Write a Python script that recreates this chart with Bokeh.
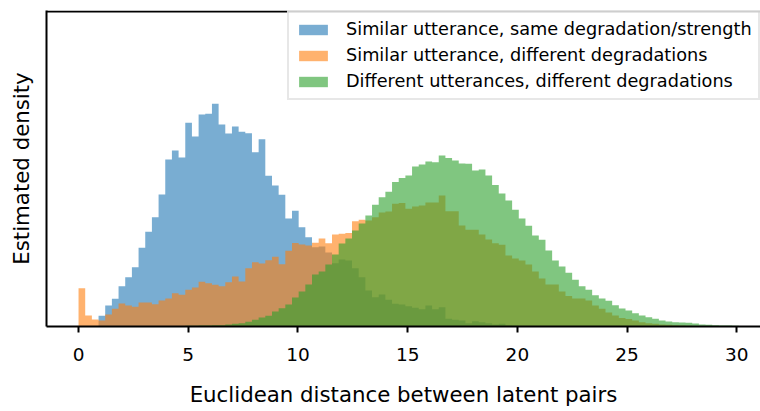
import numpy as np
from bokeh.plotting import figure
from bokeh.models import Range1d, FixedTicker
from bokeh.embed import file_html
from bokeh.resources import INLINE

# ---- data (heights in arbitrary density units) ----
bin_edges = np.linspace(0.0, 30.4, 101)

same_degradation = [
    0, 0, 0, 10.7, 21, 27.7, 40.3, 49.3, 59.3, 78.7,
    94.7, 109.3, 132, 167, 176, 169, 203.7, 190, 212, 212.7,
    222.7, 202, 193, 200, 194.7, 193.3, 174.3, 187.3, 150.7, 141,
    131.7, 108, 115.7, 99.3, 89.3, 79.3, 80, 74, 63.3, 67,
    66, 58.3, 49.3, 36, 29.3, 32, 26.7, 22.7, 22, 20.3,
    18.7, 17.3, 21, 17.3, 19.3, 7.7, 6.7, 6, 3.3, 5.3,
    4.3, 3.3, 2, 2.7, 1, 0.8, 0.6, 0.4, 0.3, 0.2,
    0, 0, 0, 0, 0, 0, 0, 0, 0, 0,
    0, 0, 0, 0, 0, 0, 0, 0, 0, 0,
    0, 0, 0, 0, 0, 0, 0, 0, 0, 0,
]

diff_degradations = [
    38.3, 11, 7, 6, 12, 17.7, 23, 21, 19.7, 24,
    24, 22.3, 26, 28, 33.3, 31.7, 36.7, 39, 44.7, 43.3,
    41.7, 40.3, 44.3, 50, 45, 58.3, 64.3, 63, 66.3, 69.7,
    62.3, 75.7, 83.5, 82, 81, 83.7, 88, 83.3, 92, 92.7,
    93.5, 105.3, 106.7, 106, 109.3, 114, 115, 122.7, 123.5, 117.7,
    120, 121, 124, 124, 131, 115.3, 115.3, 101, 96.7, 96.7,
    92, 87, 83.3, 81.7, 71, 68, 66, 62, 55, 48,
    42, 42, 35, 30.5, 28, 28, 26, 21, 17.7, 14,
    11, 8.5, 7.5, 6, 4.3, 3.3, 2.7, 2, 1.7, 1.3,
    1, 0.8, 0.6, 0.5, 0.4, 0.3, 0.2, 0.1, 0.1, 0,
]

diff_utterances = [
    0, 0, 0, 0, 0, 0, 0, 0, 0, 0,
    0, 0, 0.2, 0.3, 0.4, 0.5, 0.7, 0.8, 1.0, 1.0,
    1.3, 1.3, 2, 2.7, 3.3, 4.7, 6.7, 9, 10.7, 15,
    18.3, 22, 29, 35, 42, 52, 55, 62, 72, 83,
    88, 96, 103, 111, 121.7, 129.3, 134.7, 144.5, 148.5, 151,
    160, 162, 165, 164.3, 171, 168.5, 166, 163, 162.7, 156,
    157, 151, 141.5, 133, 126, 116.7, 108, 100.7, 91, 86.7,
    76, 66, 60, 53.7, 46.7, 40.3, 36.7, 31.3, 28, 25.7,
    21.3, 18, 16, 13.3, 11, 9.3, 7.7, 6, 5, 4.3,
    4, 3.7, 3, 2, 1.7, 1.3, 1, 1, 0.7, 0,
]

series_labels = [
    "Similar utterance, same degradation/strength",
    "Similar utterance, different degradations",
    "Different utterances, different degradations",
]
series_colors = ["#1f77b4", "#ff7f0e", "#2ca02c"]
x_ticks = [0, 5, 10, 15, 20, 25, 30]
x_lo, x_hi = -1.46, 31.08
y_top = 316

FONT = "DejaVu Sans"

p = figure(
    width=760, height=411,
    output_backend="svg", toolbar_location=None,
    x_range=Range1d(x_lo, x_hi), y_range=Range1d(0, y_top),
    min_border_left=46, min_border_right=0, min_border_top=10, min_border_bottom=85,
    background_fill_color="white", border_fill_color="white",
)
p.outline_line_color = None
p.xgrid.visible = False
p.ygrid.visible = False

for vals, lab, col in zip([same_degradation, diff_degradations, diff_utterances],
                          series_labels, series_colors):
    p.varea_step(x=bin_edges, y1=0, y2=np.append(np.array(vals, dtype=float), 0.0),
                 step_mode="after", fill_color=col, fill_alpha=0.6,
                 legend_label=lab)

# top spine, drawn as a segment along the top of the y range
p.segment(x0=[x_lo], x1=[x_hi], y0=[y_top - 1], y1=[y_top - 1],
          line_color="black", line_width=2)

# x axis
xa = p.xaxis[0]
xa.ticker = FixedTicker(ticks=x_ticks)
xa.axis_label = "Euclidean distance between latent pairs"
xa.axis_line_width = 2
xa.axis_line_color = "black"
xa.major_tick_line_width = 2
xa.major_tick_line_color = "black"
xa.major_tick_out = 6
xa.major_tick_in = 0
xa.minor_tick_out = 0
xa.minor_tick_in = 0
xa.major_label_text_font = FONT
xa.major_label_text_font_size = "18.5px"
xa.major_label_text_color = "black"
xa.major_label_standoff = 15
xa.axis_label_text_font = FONT
xa.axis_label_text_font_size = "21.3px"
xa.axis_label_text_font_style = "normal"
xa.axis_label_text_color = "black"
xa.axis_label_standoff = 18

# y axis (no ticks)
ya = p.yaxis[0]
ya.ticker = FixedTicker(ticks=[])
ya.axis_label = "Estimated density"
ya.axis_line_width = 2
ya.axis_line_color = "black"
ya.major_tick_out = 0
ya.major_tick_in = 0
ya.minor_tick_out = 0
ya.minor_tick_in = 0
ya.axis_label_text_font = FONT
ya.axis_label_text_font_size = "21.3px"
ya.axis_label_text_font_style = "normal"
ya.axis_label_text_color = "black"
ya.axis_label_standoff = 13

lg = p.legend[0]
lg.location = (241, 226)
lg.margin = 0
lg.padding = 6
lg.spacing = 4
lg.label_height = 22
lg.glyph_width = 36
lg.glyph_height = 13
lg.label_standoff = 15
lg.label_text_font = FONT
lg.label_text_font_size = "17.7px"
lg.label_text_color = "black"
lg.border_line_color = "#d0d0d0"
lg.border_line_width = 2
lg.background_fill_color = "white"
lg.background_fill_alpha = 0.8

open("out.html", "w").write(file_html(p, INLINE))
